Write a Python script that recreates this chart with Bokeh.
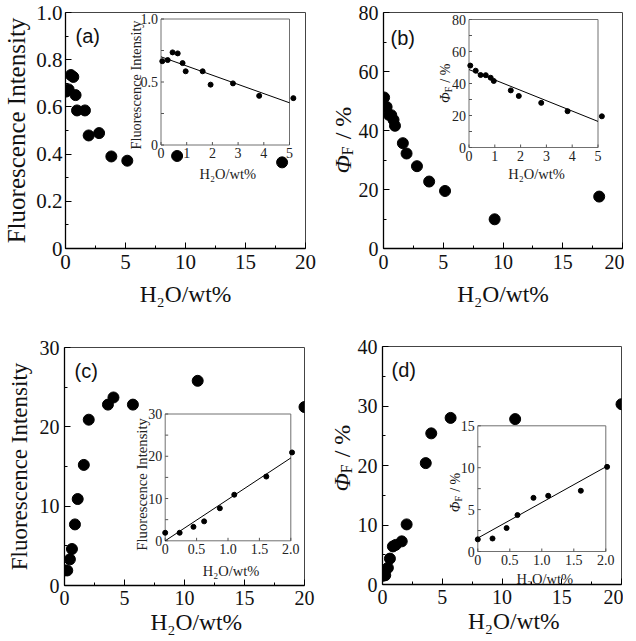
import math
import numpy as np
from bokeh.plotting import figure
from bokeh.models import Range1d, FixedTicker, Label, CustomJSTickFormatter
from bokeh.layouts import row, column
from bokeh.embed import file_html
from bokeh.resources import INLINE
from bokeh.core.properties import value

SERIF = "Liberation Serif"
TICK_FONT = "Liberation Serif, Times New Roman, serif"
SANS = "Liberation Sans"
WATER = "H\u2082O/wt%"
FLUO = "Fluorescence Intensity"

# ---------------- data ----------------
water_ab = [0.05, 0.26, 0.45, 0.65, 0.84, 0.96, 1.62, 1.93, 2.80, 3.82, 5.15, 9.30, 18.05]
intensity_a = [0.665, 0.674, 0.735, 0.727, 0.650, 0.585, 0.585, 0.479, 0.489, 0.390, 0.372, 0.392, 0.365]
phi_b = [51.2, 48.0, 45.3, 45.2, 43.6, 41.6, 35.7, 32.2, 27.9, 22.7, 19.5, 9.9, 17.6]

water_cd = [0.0, 0.23, 0.45, 0.62, 0.87, 1.10, 1.61, 2.02, 3.62, 4.08, 5.70, 11.10, 20.0]
intensity_c = [1.9, 1.9, 3.3, 4.6, 7.7, 10.9, 15.2, 20.9, 22.8, 23.7, 22.8, 25.8, 22.5]
phi_d = [1.45, 1.55, 2.8, 4.35, 6.4, 6.65, 7.25, 10.1, 20.4, 25.4, 28.0, 27.8, 30.3]

# linear fits shown in the insets (end points)
fit_x_ab = [0, 5]
fit_a = [0.70, 0.335]
fit_b = [48.7, 16.3]
fit_x_cd = [0, 2]
fit_c = [0.0, 19.6]
fit_d = [1.6, 10.1]

# ---------------- ticks ----------------
x_major = [0, 5, 10, 15, 20]
x_minor = [2.5, 7.5, 12.5, 17.5]
a_yticks = [0, 0.2, 0.4, 0.6, 0.8, 1.0]
a_yminor = [0.1, 0.3, 0.5, 0.7, 0.9]
b_yticks = [0, 20, 40, 60, 80]
b_yminor = [10, 30, 50, 70]
c_yticks = [0, 10, 20, 30]
c_yminor = [5, 15, 25]
d_yticks = [0, 10, 20, 30, 40]
d_yminor = [5, 15, 25, 35]

ins_ab_xticks = [0, 1, 2, 3, 4, 5]
ins_ab_xlabels = ["0", "1", "2", "3", "4", "5"]
ins_cd_xticks = [0, 0.5, 1.0, 1.5, 2.0]
ins_cd_xlabels = ["0", "0.5", "1.0", "1.5", "2.0"]
ins_a_yticks = [0, 0.5, 1.0]
ins_a_ylabels = ["0", "0.5", "1.0"]
ins_a_yminor = [0.25, 0.75]
ins_b_yticks = [0, 20, 40, 60, 80]
ins_b_ylabels = ["0", "20", "40", "60", "80"]
ins_b_yminor = [10, 30, 50, 70]
ins_c_yticks = [0, 10, 20, 30]
ins_c_ylabels = ["0", "10", "20", "30"]
ins_c_yminor = [5, 15, 25]
ins_d_yticks = [0, 5, 10, 15]
ins_d_ylabels = ["0", "5", "10", "15"]
ins_d_yminor = [2.5, 7.5, 12.5]

# ---------------- layout (page pixels) ----------------
PANEL = dict(a=(8, 326, 8, 312), b=(326, 628, 8, 312), c=(8, 326, 312, 633), d=(326, 628, 312, 633))
YSTRIP = dict(a=0, b=36, c=0, d=36)
FRAME = dict(a=(72, 312, 20, 256), b=(387, 626, 20, 256), c=(72, 312, 350, 588), d=(387, 626, 349, 587))
INSET = dict(a=(167.5, 296, 26.5, 152.5), b=(472.5, 601.5, 27, 155),
             c=(172.7, 298.3, 416.5, 543.3), d=(482.3, 610.3, 428.3, 554))
# composite y-title anchors (page px): baseline x, start y
YTITLE = dict(b=(349, 169), d=(349, 457))


def phi_parts(p, x, y, size, sub_size, sub_dx, base_dx=0.0, start_dy=0.0, **kw):
    w_phi = 0.76 * size
    w_sub = 0.62 * sub_size
    w_space = 0.25 * size
    parts = [("\u03a6", size, "italic", 0, 0.0),
             ("F", sub_size, "normal", sub_dx, w_phi),
             ("/ %", size, "normal", 0, w_phi + w_sub + w_space)]
    for txt, sz, style, dx, dy in parts:
        p.add_layout(Label(x=x, y=y, x_offset=base_dx + dx, y_offset=start_dy + dy, text=txt,
                           angle=math.pi / 2, text_align="left", text_baseline="alphabetic",
                           text_font=SERIF, text_font_size=f"{sz}px", text_font_style=style,
                           text_color="#111111", **kw))


def blank_fig(w, h):
    f = figure(frame_width=w, frame_height=h, min_border=0, min_border_left=0, min_border_right=0,
               min_border_top=0, min_border_bottom=0, x_range=Range1d(0, w), y_range=Range1d(0, h),
               x_axis_type=None, y_axis_type=None, output_backend="svg", toolbar_location=None,
               title=None)
    f.grid.visible = False
    f.outline_line_color = None
    f.background_fill_color = "white"
    f.border_fill_color = "white"
    return f


def build(cfg):
    key = cfg["key"]
    px0, px1, py0, py1 = PANEL[key]
    fx0, fx1, fy0, fy1 = FRAME[key]
    ys_w = YSTRIP[key]
    mx0 = px0 + ys_w
    ymax = cfg["ymax"]

    p = figure(frame_width=fx1 - fx0, frame_height=fy1 - fy0,
               min_border_left=fx0 - mx0, min_border_right=px1 - fx1,
               min_border_top=fy0 - py0, min_border_bottom=py1 - fy1,
               x_range=Range1d(0, 20), y_range=Range1d(0, ymax),
               output_backend="svg", toolbar_location=None, title=None)
    p.grid.visible = False
    p.outline_line_color = "#444444"
    p.background_fill_color = "white"
    p.border_fill_color = "white"
    p.xaxis.ticker = FixedTicker(ticks=x_major, minor_ticks=x_minor)
    p.yaxis.ticker = FixedTicker(ticks=cfg["yt"], minor_ticks=cfg["ymt"])
    if cfg.get("yfmt"):
        p.yaxis.formatter = CustomJSTickFormatter(code="return tick == 0 ? '0' : tick.toFixed(1);")
    for ax in list(p.xaxis) + list(p.yaxis):
        ax.axis_line_color = "black"
        ax.axis_line_width = 1.3
        ax.major_tick_in = 6
        ax.major_tick_out = 0
        ax.minor_tick_in = 3
        ax.minor_tick_out = 0
        ax.major_tick_line_color = "black"
        ax.minor_tick_line_color = "black"
        ax.major_label_text_font = TICK_FONT
        ax.major_label_text_font_style = "normal"
        ax.major_label_text_font_size = f"{cfg['tick_px']}px"
        ax.major_label_text_color = "#111111"
        ax.axis_label_text_font = SERIF
        ax.axis_label_text_font_style = "normal"
        ax.axis_label_text_color = "#111111"
    xa = p.xaxis[0]
    ya = p.yaxis[0]
    xa.major_label_standoff = cfg["xstand"]
    ya.major_label_standoff = cfg["ystand"]
    # a leading em space nudges the centred title to the right, as in the reference
    xa.axis_label = ("\u2003" if cfg.get("xlab_nudge") else "") + WATER
    xa.axis_label_text_font_size = "23.5px"
    xa.axis_label_standoff = cfg["xlab_stand"]
    if cfg["kind"] == "fluo":
        ya.axis_label = FLUO
        ya.axis_label_text_font_size = f"{cfg['yt_size']}px"
        ya.axis_label_standoff = cfg["ylab_stand"]

    # ---- inset via extra ranges mapped onto the inset box ----
    ix0, ix1, iy0, iy1 = INSET[key]
    ax0, ax1 = cfg["ixlim"]
    ay0, ay1 = cfg["iylim"]
    sx = (ax1 - ax0) / (ix1 - ix0)
    sy = (ay1 - ay0) / (iy1 - iy0)
    p.extra_x_ranges = {"ix": Range1d(ax0 - (ix0 - fx0) * sx, ax1 + (fx1 - ix1) * sx)}
    p.extra_y_ranges = {"iy": Range1d(ay0 - (fy1 - iy1) * sy, ay1 + (iy0 - fy0) * sy)}
    kw = dict(x_range_name="ix", y_range_name="iy")

    p.quad(left=[ax0], right=[ax1], bottom=[ay0], top=[ay1], fill_color="white",
           line_color="#707070", line_width=1, **kw)
    yt_all = list(cfg["iyt"]) + list(cfg["iymt"])
    p.ray(x=[ax0] * len(yt_all), y=yt_all, length=3, angle=0, length_units="screen",
          line_color="#555555", line_width=1, **kw)
    p.ray(x=cfg["ixt"], y=[ay0] * len(cfg["ixt"]), length=3, angle=math.pi / 2,
          length_units="screen", line_color="#555555", line_width=1, **kw)
    p.line(cfg["fitx"], cfg["fity"], line_color="black", line_width=1, **kw)
    xs = np.array(cfg["x"])
    ys = np.array(cfg["y"])
    m = xs <= ax1 * 1.05
    p.scatter(xs[m], ys[m], size=5, color="black", **kw)
    p.text(x=[ax0] * len(cfg["iyt"]), y=cfg["iyt"], text=cfg["iyl"], x_offset=-3,
           text_align="right", text_baseline="middle", text_font=value(SERIF),
           text_font_size=value("14px"), text_color="#222222", **kw)
    p.text(x=cfg["ixt"], y=[ay0] * len(cfg["ixt"]), text=cfg["ixl"], y_offset=3,
           text_align="center", text_baseline="top", text_font=value(SERIF),
           text_font_size=value("14px"), text_color="#222222", **kw)
    p.add_layout(Label(x=(ax0 + ax1) / 2, y=ay0, x_offset=cfg["ixt_dx"], y_offset=cfg["ixt_dy"],
                       text=WATER, text_align="center", text_baseline="alphabetic",
                       text_font=SERIF, text_font_size="14.5px", text_color="#222222", **kw))
    if cfg["kind"] == "fluo":
        p.add_layout(Label(x=ax0, y=(ay0 + ay1) / 2, x_offset=cfg["iyt_dx"], y_offset=cfg["iyt_dy"],
                           text=FLUO, angle=math.pi / 2, text_align="center",
                           text_baseline="alphabetic", text_font=SERIF,
                           text_font_size=f"{cfg['iyt_size']}px", text_color="#222222", **kw))
    else:
        phi_parts(p, ax0, (ay0 + ay1) / 2, 14, 10, 3, base_dx=cfg["iyt_dx"], start_dy=cfg["iyt_dy"], **kw)

    # ---- main data ----
    p.scatter(cfg["x"], cfg["y"], size=11, color="black")

    p.add_layout(Label(x=0, y=ymax, x_offset=cfg["let_dx"], y_offset=-cfg["let_dy"],
                       text=cfg["letter"], text_baseline="alphabetic", text_font=SANS,
                       text_font_size="20px", text_color="#111111"))

    if ys_w == 0:
        return p
    # ---- composite y-title strip (left of the main figure) ----
    yf = blank_fig(ys_w, py1 - py0)
    tx, ty = YTITLE[key]
    phi_parts(yf, tx - px0, py1 - ty, 24, 16, 5)
    return row(yf, p, spacing=0)


panels = {
    "a": dict(key="a", x=water_ab, y=intensity_a, ymax=1.0, yt=a_yticks, ymt=a_yminor, yfmt=True,
              tick_px=21, xstand=6, ystand=3, xlab_stand=9, ylab_stand=3,
              ixlim=(0, 5), iylim=(0, 1.0),
              fitx=fit_x_ab, fity=fit_a, ixt=ins_ab_xticks, ixl=ins_ab_xlabels,
              iyt=ins_a_yticks, iyl=ins_a_ylabels, iymt=ins_a_yminor, kind="fluo",
              ixt_dx=2.5, ixt_dy=-28.5, iyt_dx=-25.5, iyt_dy=-3, iyt_size=14.3,
              yt_size=25, letter="(a)", let_dx=10, let_dy=23),
    "b": dict(key="b", x=water_ab, y=phi_b, ymax=80, yt=b_yticks, ymt=b_yminor,
              tick_px=20, xstand=6, ystand=5, xlab_stand=9,
              ixlim=(0, 5), iylim=(0, 80),
              fitx=fit_x_ab, fity=fit_b, ixt=ins_ab_xticks, ixl=ins_ab_xlabels,
              iyt=ins_b_yticks, iyl=ins_b_ylabels, iymt=ins_b_yminor, kind="phi",
              ixt_dx=3, ixt_dy=-26, iyt_dx=-24, iyt_dy=-19.5,
              letter="(b)", let_dx=7, let_dy=25),
    "c": dict(key="c", x=water_cd, y=intensity_c, ymax=30, yt=c_yticks, ymt=c_yminor,
              tick_px=20, xstand=5, ystand=5, xlab_stand=1, ylab_stand=5, xlab_nudge=True,
              ixlim=(0, 2), iylim=(0, 30),
              fitx=fit_x_cd, fity=fit_c, ixt=ins_cd_xticks, ixl=ins_cd_xlabels,
              iyt=ins_c_yticks, iyl=ins_c_ylabels, iymt=ins_c_yminor, kind="fluo",
              ixt_dx=3, ixt_dy=-30, iyt_dx=-23.7, iyt_dy=-7, iyt_size=14.7,
              yt_size=23, letter="(c)", let_dx=10, let_dy=23),
    "d": dict(key="d", x=water_cd, y=phi_d, ymax=40, yt=d_yticks, ymt=d_yminor,
              tick_px=20, xstand=5, ystand=5, xlab_stand=1, xlab_nudge=True,
              ixlim=(0, 2), iylim=(0, 15),
              fitx=fit_x_cd, fity=fit_d, ixt=ins_cd_xticks, ixl=ins_cd_xlabels,
              iyt=ins_d_yticks, iyl=ins_d_ylabels, iymt=ins_d_yminor, kind="phi",
              ixt_dx=3, ixt_dy=-27.5, iyt_dx=-22, iyt_dy=-23.5,
              letter="(d)", let_dx=9, let_dy=23),
}

built = {k: build(v) for k, v in panels.items()}
layout = column(row(built["a"], built["b"], spacing=0), row(built["c"], built["d"], spacing=0), spacing=0)

open("out.html", "w").write(file_html(layout, INLINE))
